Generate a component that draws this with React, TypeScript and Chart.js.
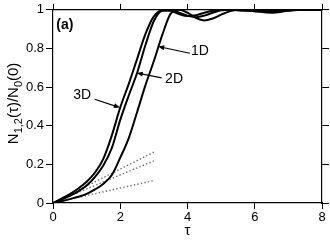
import React, { useEffect, useRef } from "react";
import { Chart, registerables } from "chart.js";

Chart.register(...registerables);

const tau = [0, 0.25, 0.5, 0.75, 1, 1.25, 1.5, 1.75, 2, 2.25, 2.5, 2.75, 3, 3.25, 3.5, 3.75, 4, 4.25, 4.5, 4.75, 5, 5.25, 5.5, 6, 6.5, 7, 7.5, 8];
const n3D = [0, 0.022, 0.046, 0.075, 0.11, 0.158, 0.23, 0.35, 0.495, 0.615, 0.745, 0.875, 0.966, 0.998, 0.995, 0.978, 0.968, 0.972, 0.985, 0.995, 1.0, 1.0, 0.998, 0.996, 0.998, 1.0, 1.0, 1.0];
const n2D = [0, 0.018, 0.037, 0.06, 0.09, 0.135, 0.195, 0.285, 0.43, 0.555, 0.673, 0.818, 0.942, 0.995, 0.998, 0.985, 0.97, 0.962, 0.97, 0.985, 0.997, 1.0, 0.998, 0.993, 0.992, 0.997, 1.0, 1.0];
const n1D = [0, 0.0095, 0.02, 0.032, 0.047, 0.07, 0.1, 0.145, 0.235, 0.335, 0.47, 0.61, 0.735, 0.87, 0.98, 1.0, 0.985, 0.958, 0.945, 0.955, 0.975, 0.992, 1.0, 0.993, 0.985, 0.995, 1.0, 1.0];

const dotTau = [0, 3];
const dot3D = [0, 0.264];
const dot2D = [0, 0.218];
const dot1D = [0, 0.116];

const xTickLabels = ["0", "2", "4", "6", "8"];
const yTickLabels = ["0", "0.2", "0.4", "0.6", "0.8", "1"];

const curveLabels = [
  { text: "1D", tx: 4.37, ty: 0.784, ax0: 4.07, ay0: 0.775, ax1: 3.13, ay1: 0.81 },
  { text: "2D", tx: 3.6, ty: 0.643, ax0: 3.23, ay0: 0.648, ax1: 2.49, ay1: 0.673 },
  { text: "3D", tx: 0.87, ty: 0.556, ax0: 1.24, ay0: 0.537, ax1: 1.99, ay1: 0.494 },
];

const FONT = "'Liberation Sans', Arial, Helvetica, sans-serif";

const toXY = (xs: number[], ys: number[]) => xs.map((x, i) => ({ x, y: ys[i] }));

const annotPlugin = {
  id: "annot",
  afterDatasetsDraw(chart: any) {
    const { ctx, scales } = chart;
    const xs = scales.x;
    const ys = scales.y;
    ctx.save();
    ctx.fillStyle = "#000";
    ctx.strokeStyle = "#000";
    // panel label
    ctx.font = `bold 14px ${FONT}`;
    ctx.textAlign = "left";
    ctx.textBaseline = "middle";
    ctx.fillText("(a)", xs.getPixelForValue(0.1), ys.getPixelForValue(0.92));
    // curve labels with arrows
    ctx.font = `14px ${FONT}`;
    ctx.textAlign = "center";
    curveLabels.forEach((l) => {
      ctx.fillText(l.text, xs.getPixelForValue(l.tx), ys.getPixelForValue(l.ty));
      const x0 = xs.getPixelForValue(l.ax0);
      const y0 = ys.getPixelForValue(l.ay0);
      const x1 = xs.getPixelForValue(l.ax1);
      const y1 = ys.getPixelForValue(l.ay1);
      const ang = Math.atan2(y1 - y0, x1 - x0);
      const hl = 6;
      const hw = 2.5;
      ctx.lineWidth = 1.2;
      ctx.beginPath();
      ctx.moveTo(x0, y0);
      ctx.lineTo(x1 - Math.cos(ang) * hl * 0.8, y1 - Math.sin(ang) * hl * 0.8);
      ctx.stroke();
      ctx.beginPath();
      ctx.moveTo(x1, y1);
      ctx.lineTo(
        x1 - Math.cos(ang) * hl - Math.sin(ang) * hw,
        y1 - Math.sin(ang) * hl + Math.cos(ang) * hw
      );
      ctx.lineTo(
        x1 - Math.cos(ang) * hl + Math.sin(ang) * hw,
        y1 - Math.sin(ang) * hl - Math.cos(ang) * hw
      );
      ctx.closePath();
      ctx.fill();
    });
    ctx.restore();
  },
  afterDraw(chart: any) {
    const { ctx, chartArea } = chart;
    const parts = [
      { t: "N", sub: false },
      { t: "1,2", sub: true },
      { t: "(τ)/N", sub: false },
      { t: "0", sub: true },
      { t: "(0)", sub: false },
    ];
    const mainF = `15px ${FONT}`;
    const subF = `11px ${FONT}`;
    ctx.save();
    let total = 0;
    parts.forEach((p) => {
      ctx.font = p.sub ? subF : mainF;
      total += ctx.measureText(p.t).width;
    });
    const cy = (chartArea.top + chartArea.bottom) / 2 - 3;
    ctx.translate(18, cy);
    ctx.rotate(-Math.PI / 2);
    ctx.fillStyle = "#000";
    ctx.textAlign = "left";
    ctx.textBaseline = "alphabetic";
    let pos = -total / 2;
    parts.forEach((p) => {
      ctx.font = p.sub ? subF : mainF;
      ctx.fillText(p.t, pos, p.sub ? 3.5 : 0);
      pos += ctx.measureText(p.t).width;
    });
    ctx.restore();
  },
};

export default function App() {
  const ref = useRef<HTMLCanvasElement | null>(null);
  useEffect(() => {
    if (!ref.current) return;
    const solid = (data: number[]) => ({
      data: toXY(tau, data),
      borderColor: "#000",
      borderWidth: 2,
      pointRadius: 0,
      cubicInterpolationMode: "monotone" as const,
      fill: false,
    });
    const dotted = (data: number[]) => ({
      data: toXY(dotTau, data),
      borderColor: "#6e6e6e",
      borderWidth: 1.4,
      borderDash: [1.4, 2.2],
      pointRadius: 0,
      fill: false,
    });
    const gridOpts = { drawOnChartArea: false, tickLength: 6, color: "#000", lineWidth: 1 };
    const borderOpts = { color: "#000", width: 1.2 };
    const tickFont = { family: FONT, size: 13 };
    const chart = new Chart(ref.current, {
      type: "line",
      data: {
        datasets: [solid(n3D), solid(n2D), solid(n1D), dotted(dot3D), dotted(dot2D), dotted(dot1D)],
      },
      plugins: [annotPlugin],
      options: {
        animation: false,
        responsive: false,
        maintainAspectRatio: false,
        layout: { padding: 0 },
        plugins: { legend: { display: false }, tooltip: { enabled: false } },
        scales: {
          x: {
            type: "linear",
            position: "bottom",
            min: 0,
            max: 8,
            ticks: {
              stepSize: 2,
              color: "#000",
              font: tickFont,
              padding: 1,
              maxRotation: 0,
              callback: (_v: any, i: number) => xTickLabels[i],
            },
            grid: gridOpts,
            border: borderOpts,
            title: { display: true, text: "τ", color: "#000", font: { family: FONT, size: 15 }, padding: 0 },
            afterFit: (s: any) => { s.height = 37; },
          },
          x2: {
            type: "linear",
            position: "top",
            min: 0,
            max: 8,
            ticks: { stepSize: 2, display: false },
            grid: gridOpts,
            border: borderOpts,
            afterFit: (s: any) => { s.height = 8; },
          },
          y: {
            type: "linear",
            position: "left",
            min: 0,
            max: 1,
            ticks: {
              stepSize: 0.2,
              color: "#000",
              font: tickFont,
              padding: 2,
              callback: (_v: any, i: number) => yTickLabels[i],
            },
            grid: { ...gridOpts, tickLength: 7 },
            border: borderOpts,
            afterFit: (s: any) => { s.width = 53; },
          },
          y2: {
            type: "linear",
            position: "right",
            min: 0,
            max: 1,
            ticks: { stepSize: 0.2, display: false },
            grid: { ...gridOpts, tickLength: 7 },
            border: borderOpts,
            afterFit: (s: any) => { s.width = 8; },
          },
        },
      } as any,
    });
    return () => chart.destroy();
  }, []);
  return (
    <div style={{ position: "absolute", left: 0, top: 0, width: 330, height: 240, background: "#fff" }}>
      <canvas ref={ref} width={330} height={240} style={{ display: "block" }} />
    </div>
  );
}
